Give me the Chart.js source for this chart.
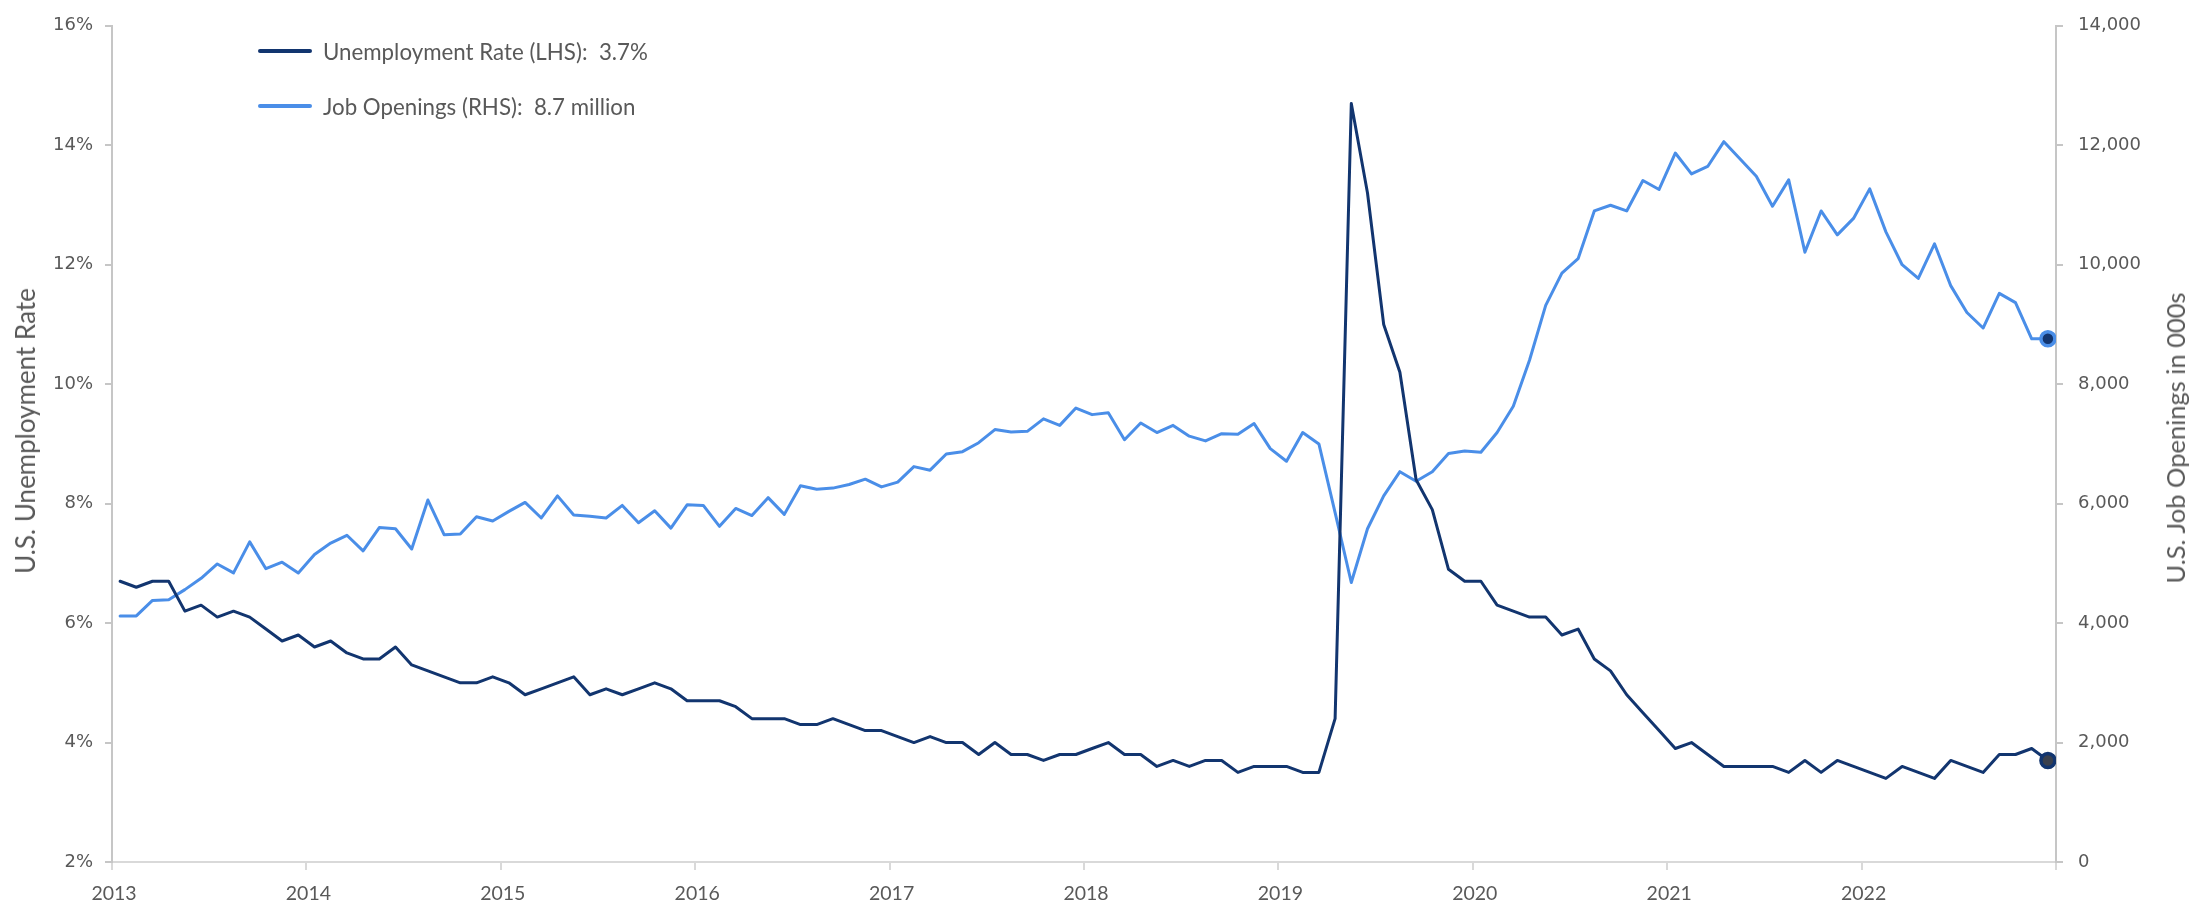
<!DOCTYPE html>
<html>
<head>
<meta charset="utf-8">
<script src="https://cdn.jsdelivr.net/npm/chart.js@4.4.1/dist/chart.umd.min.js"></script>
<style>
  html, body { margin: 0; padding: 0; background: #ffffff; }
  #wrap { position: relative; width: 2208px; height: 908px; overflow: hidden; background: #fff; }
  #chart { position: absolute; left: 0; top: 0; }
  .axis-title {
    position: absolute; font-family: Lato, "Open Sans", sans-serif; color: #595959;
    white-space: nowrap; transform: translate(-50%, -50%) rotate(-90deg); transform-origin: 50% 50%;
  }
  .leg-item { position: absolute; left: 258px; height: 30px; display: flex; align-items: center; }
  .leg-line { width: 54px; height: 4px; border-radius: 2px; margin-right: 11px; }
  .leg-text { font-family: Lato, "Open Sans", sans-serif; font-size: 22.3px; color: #595959; white-space: pre; }
</style>
</head>
<body>
<div id="wrap">
  <canvas id="chart" width="2208" height="908"></canvas>
  <div class="axis-title" id="tL" style="left:25px; top:431px; font-size:26px;"></div>
  <div class="axis-title" id="tR" style="left:2175px; top:438px; font-size:25.5px;"></div>
  <div class="leg-item" style="top:36px;"><div class="leg-line" id="l1"></div><div class="leg-text" id="lt1"></div></div>
  <div class="leg-item" style="top:91px;"><div class="leg-line" id="l2"></div><div class="leg-text" id="lt2"></div></div>
</div>
<script>
// ---- Data (monthly, 120 points) ----
const yearLabels = ['2013','2014','2015','2016','2017','2018','2019','2020','2021','2022'];

const unemploymentRate = [
  6.7, 6.6, 6.7, 6.7, 6.2, 6.3, 6.1, 6.2, 6.1, 5.9, 5.7, 5.8,
  5.6, 5.7, 5.5, 5.4, 5.4, 5.6, 5.3, 5.2, 5.1, 5.0, 5.0, 5.1,
  5.0, 4.8, 4.9, 5.0, 5.1, 4.8, 4.9, 4.8, 4.9, 5.0, 4.9, 4.7,
  4.7, 4.7, 4.6, 4.4, 4.4, 4.4, 4.3, 4.3, 4.4, 4.3, 4.2, 4.2,
  4.1, 4.0, 4.1, 4.0, 4.0, 3.8, 4.0, 3.8, 3.8, 3.7, 3.8, 3.8,
  3.9, 4.0, 3.8, 3.8, 3.6, 3.7, 3.6, 3.7, 3.7, 3.5, 3.6, 3.6,
  3.6, 3.5, 3.5, 4.4, 14.7, 13.2, 11.0, 10.2, 8.4, 7.9, 6.9, 6.7,
  6.7, 6.3, 6.2, 6.1, 6.1, 5.8, 5.9, 5.4, 5.2, 4.8, 4.5, 4.2,
  3.9, 4.0, 3.8, 3.6, 3.6, 3.6, 3.6, 3.5, 3.7, 3.5, 3.7, 3.6,
  3.5, 3.4, 3.6, 3.5, 3.4, 3.7, 3.6, 3.5, 3.8, 3.8, 3.9, 3.7
];

const jobOpenings = [
  4120, 4120, 4380, 4390, 4560, 4750, 4990, 4840, 5360, 4910, 5020, 4840,
  5150, 5340, 5470, 5210, 5600, 5580, 5240, 6060, 5480, 5490, 5780, 5710,
  5870, 6020, 5760, 6130, 5810, 5790, 5760, 5970, 5680, 5880, 5590, 5980,
  5970, 5620, 5920, 5800, 6100, 5820, 6300, 6240, 6260, 6320, 6410, 6280,
  6360, 6620, 6560, 6830, 6870, 7020, 7240, 7200, 7210, 7420, 7310, 7600,
  7490, 7520, 7070, 7350, 7190, 7310, 7130, 7050, 7170, 7160, 7340, 6920,
  6710, 7190, 7000, 5850, 4680, 5580, 6130, 6535, 6375, 6535, 6840, 6880,
  6860, 7190, 7630, 8400, 9320, 9860, 10100, 10900, 10995, 10900, 11410, 11260,
  11870, 11520, 11645, 12060, 11770, 11480, 10980, 11420, 10210, 10900, 10500, 10775,
  11270, 10550, 10000, 9770, 10350, 9650, 9200, 8940, 9520, 9365, 8760, 8760
];

const seriesNames = ['Unemployment Rate (LHS):  3.7%', 'Job Openings (RHS):  8.7 million'];
const axisTitles = ['U.S. Unemployment Rate', 'U.S. Job Openings in 000s'];

// ---- Styles ----
const NAVY = '#12356F';
const LIGHT = '#4A8EE8';
const TEXT = '#595959';
const XAXIS = '#D9D9D9';
const YAXIS = '#C6C6C6';
const last = unemploymentRate.length - 1;

document.getElementById('tL').textContent = axisTitles[0];
document.getElementById('tR').textContent = axisTitles[1];
document.getElementById('lt1').textContent = seriesNames[0];
document.getElementById('lt2').textContent = seriesNames[1];
document.getElementById('l1').style.background = NAVY;
document.getElementById('l2').style.background = LIGHT;

const tickLabels = yearLabels.concat(['']);

new Chart(document.getElementById('chart').getContext('2d'), {
  type: 'line',
  data: {
    datasets: [
      {
        label: seriesNames[0],
        data: unemploymentRate.map((v, i) => ({ x: i, y: v })),
        yAxisID: 'yL',
        borderColor: NAVY,
        borderWidth: 3,
        borderJoinStyle: 'round',
        borderCapStyle: 'round',
        tension: 0,
        pointRadius: c => (c.dataIndex === last ? 7 : 0),
        pointBackgroundColor: '#3A404D',
        pointBorderColor: NAVY,
        pointBorderWidth: 3.5,
        order: 1
      },
      {
        label: seriesNames[1],
        data: jobOpenings.map((v, i) => ({ x: i, y: v })),
        yAxisID: 'yR',
        borderColor: LIGHT,
        borderWidth: 3,
        borderJoinStyle: 'round',
        borderCapStyle: 'round',
        tension: 0,
        pointRadius: c => (c.dataIndex === last ? 7 : 0),
        pointBackgroundColor: NAVY,
        pointBorderColor: LIGHT,
        pointBorderWidth: 3.5,
        order: 2
      }
    ]
  },
  options: {
    responsive: false,
    animation: false,
    layout: { padding: { top: 17, left: 0, right: 0, bottom: 0 } },
    plugins: { legend: { display: false }, tooltip: { enabled: false } },
    scales: {
      x: {
        type: 'linear',
        min: -0.5,
        max: 119.5,
        afterBuildTicks: s => { s.ticks = tickLabels.map((l, k) => ({ value: -0.5 + 12 * k })); },
        afterFit: s => { s.height = 46; },
        ticks: {
          autoSkip: false, maxRotation: 0, minRotation: 0,
          callback: (v, i) => tickLabels[i],
          color: TEXT, font: { family: 'Lato', size: 19.5 }, padding: 12, labelOffset: 2
        },
        grid: { drawOnChartArea: false, tickLength: 8, color: XAXIS, lineWidth: 2 },
        border: { color: XAXIS, width: 2 }
      },
      yL: {
        position: 'left',
        min: 2, max: 16,
        afterFit: s => { s.width = 112; },
        ticks: {
          stepSize: 2, callback: v => v + '%',
          color: TEXT, font: { family: 'DejaVu Sans', size: 18 }, padding: 12
        },
        grid: { drawOnChartArea: false, tickLength: 7, color: YAXIS, lineWidth: 2 },
        border: { color: YAXIS, width: 2 }
      },
      yR: {
        position: 'right',
        min: 0, max: 14000,
        afterFit: s => { s.width = 152; },
        ticks: {
          stepSize: 2000, callback: v => v.toLocaleString('en-US'),
          color: TEXT, font: { family: 'DejaVu Sans', size: 18 }, padding: 15
        },
        grid: { drawOnChartArea: false, tickLength: 7, color: YAXIS, lineWidth: 2 },
        border: { color: YAXIS, width: 2 }
      }
    }
  }
});
</script>
</body>
</html>
